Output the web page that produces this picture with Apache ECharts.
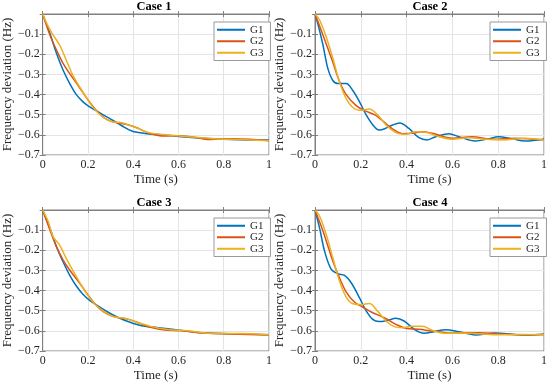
<!DOCTYPE html>
<html><head><meta charset="utf-8">
<script src="https://cdn.jsdelivr.net/npm/echarts@6/dist/echarts.min.js"></script>
<style>html,body{margin:0;padding:0;background:#fff}#c{width:550px;height:385px}</style>
</head><body><div id="c"></div>
<script>
// ---- data ----
const caseTitles = ['Case 1', 'Case 2', 'Case 3', 'Case 4'];
const seriesNames = ['G1', 'G2', 'G3'];
const seriesColors = ['#0072BD', '#D95319', '#EDB120'];
const xLabel = 'Time (s)';
const yLabel = 'Frequency deviation (Hz)';

const case1G1 = [[0,0],[0.032,-0.096],[0.061,-0.195],[0.09,-0.278],[0.119,-0.344],[0.148,-0.399],[0.177,-0.435],[0.206,-0.46],[0.235,-0.48],[0.264,-0.498],[0.307,-0.526],[0.351,-0.556],[0.394,-0.581],[0.452,-0.593],[0.525,-0.599],[0.612,-0.609],[0.728,-0.618],[0.872,-0.624],[1,-0.626]];
const case1G2 = [[0,0],[0.032,-0.104],[0.061,-0.179],[0.09,-0.245],[0.119,-0.295],[0.162,-0.364],[0.206,-0.435],[0.249,-0.493],[0.286,-0.526],[0.329,-0.54],[0.38,-0.551],[0.423,-0.568],[0.474,-0.593],[0.539,-0.606],[0.597,-0.604],[0.655,-0.609],[0.742,-0.623],[0.843,-0.619],[0.93,-0.623],[1,-0.629]];
const case1G3 = [[0,0],[0.025,-0.063],[0.046,-0.104],[0.075,-0.154],[0.104,-0.228],[0.133,-0.303],[0.177,-0.386],[0.22,-0.46],[0.264,-0.51],[0.307,-0.535],[0.351,-0.54],[0.409,-0.563],[0.467,-0.589],[0.554,-0.601],[0.641,-0.609],[0.757,-0.619],[0.872,-0.623],[1,-0.629]];

const case2G1 = [[0,0],[0.015,-0.06],[0.035,-0.155],[0.056,-0.27],[0.078,-0.33],[0.1,-0.345],[0.136,-0.345],[0.165,-0.38],[0.194,-0.435],[0.223,-0.5],[0.252,-0.55],[0.28,-0.576],[0.302,-0.571],[0.339,-0.551],[0.37,-0.541],[0.41,-0.568],[0.454,-0.614],[0.49,-0.625],[0.527,-0.609],[0.585,-0.594],[0.628,-0.609],[0.7,-0.63],[0.758,-0.62],[0.8,-0.61],[0.86,-0.619],[0.917,-0.63],[1,-0.62]];
const case2G2 = [[0,0],[0.035,-0.105],[0.078,-0.24],[0.107,-0.335],[0.136,-0.4],[0.18,-0.455],[0.216,-0.48],[0.26,-0.5],[0.295,-0.53],[0.34,-0.571],[0.382,-0.594],[0.425,-0.592],[0.469,-0.584],[0.512,-0.592],[0.6,-0.617],[0.686,-0.609],[0.773,-0.622],[0.874,-0.617],[1,-0.625]];
const case2G3 = [[0,0],[0.02,-0.03],[0.049,-0.114],[0.078,-0.22],[0.107,-0.337],[0.136,-0.42],[0.165,-0.464],[0.194,-0.478],[0.237,-0.472],[0.273,-0.5],[0.31,-0.551],[0.353,-0.589],[0.396,-0.597],[0.44,-0.584],[0.483,-0.587],[0.541,-0.609],[0.6,-0.622],[0.671,-0.614],[0.744,-0.622],[0.83,-0.625],[0.917,-0.617],[1,-0.625]];

const case3G1 = [[0,0],[0.032,-0.091],[0.061,-0.182],[0.09,-0.257],[0.119,-0.323],[0.148,-0.376],[0.177,-0.417],[0.206,-0.447],[0.249,-0.48],[0.293,-0.51],[0.336,-0.535],[0.38,-0.555],[0.438,-0.575],[0.51,-0.584],[0.597,-0.596],[0.699,-0.609],[0.843,-0.614],[1,-0.619]];
const case3G2 = [[0,0],[0.032,-0.099],[0.061,-0.182],[0.09,-0.248],[0.119,-0.298],[0.162,-0.361],[0.206,-0.43],[0.249,-0.488],[0.286,-0.517],[0.329,-0.533],[0.38,-0.543],[0.43,-0.563],[0.481,-0.584],[0.539,-0.596],[0.612,-0.599],[0.699,-0.609],[0.843,-0.616],[1,-0.62]];
const case3G3 = [[0,0],[0.025,-0.058],[0.046,-0.132],[0.075,-0.174],[0.104,-0.24],[0.141,-0.315],[0.184,-0.397],[0.228,-0.464],[0.271,-0.505],[0.314,-0.53],[0.365,-0.538],[0.423,-0.56],[0.481,-0.579],[0.554,-0.593],[0.641,-0.599],[0.757,-0.613],[0.872,-0.613],[1,-0.619]];

const case4G1 = [[0,0],[0.02,-0.09],[0.042,-0.205],[0.071,-0.295],[0.1,-0.317],[0.129,-0.325],[0.158,-0.361],[0.194,-0.435],[0.223,-0.5],[0.252,-0.543],[0.28,-0.554],[0.317,-0.548],[0.353,-0.538],[0.389,-0.551],[0.433,-0.592],[0.476,-0.612],[0.52,-0.604],[0.57,-0.594],[0.628,-0.604],[0.7,-0.62],[0.787,-0.611],[0.86,-0.617],[0.917,-0.622],[1,-0.616]];
const case4G2 = [[0,0],[0.035,-0.105],[0.078,-0.254],[0.107,-0.337],[0.136,-0.406],[0.172,-0.457],[0.208,-0.482],[0.252,-0.51],[0.302,-0.535],[0.353,-0.568],[0.396,-0.587],[0.454,-0.592],[0.512,-0.601],[0.6,-0.611],[0.715,-0.609],[0.83,-0.617],[1,-0.619]];
const case4G3 = [[0,0],[0.02,-0.03],[0.049,-0.122],[0.078,-0.238],[0.107,-0.353],[0.136,-0.432],[0.165,-0.465],[0.201,-0.469],[0.237,-0.464],[0.273,-0.502],[0.31,-0.551],[0.346,-0.579],[0.382,-0.584],[0.425,-0.577],[0.469,-0.577],[0.512,-0.597],[0.563,-0.612],[0.628,-0.611],[0.715,-0.614],[0.8,-0.619],[1,-0.618]];

const caseData = [[case1G1, case1G2, case1G3], [case2G1, case2G2, case2G3], [case3G1, case3G2, case3G3], [case4G1, case4G2, case4G3]];

const xMin = 0, xMax = 1, xStep = 0.2;
const yMin = -0.7, yMax = 0, yStep = 0.1;

// ---- layout ----
const FONT = '"Liberation Serif", "Times New Roman", serif';
const panels = [
  {left: 39, top: 14}, {left: 315, top: 14},
  {left: 39, top: 210}, {left: 315, top: 210}
];
const PW = 230, PH = 141;
const axisColor = '#808080';
const textColor = '#262626';
const gridColor = '#e4e4e4';

const grid = [], xAxis = [], yAxis = [], series = [], legend = [], graphic = [];
panels.forEach((p, i) => {
  grid.push({left: p.left, top: p.top, width: PW, height: PH, show: true, borderColor: axisColor, borderWidth: 1, backgroundColor: '#fff', containLabel: false});
  const tick = {show: true, inside: true, length: 3, lineStyle: {color: axisColor}};
  xAxis.push({
    type: 'value', gridIndex: i, position: 'bottom', min: xMin, max: xMax, interval: xStep,
    axisLine: {show: true, lineStyle: {color: axisColor}}, axisTick: tick,
    axisLabel: {fontFamily: FONT, fontSize: 12, color: textColor, margin: 4,
      formatter: v => String(Math.round(v * 10) / 10)},
    splitLine: {show: true, lineStyle: {color: gridColor, width: 1}},
    name: xLabel, nameLocation: 'middle', nameGap: 18,
    nameTextStyle: {fontFamily: FONT, fontSize: 13, color: textColor}
  });
  xAxis.push({
    type: 'value', gridIndex: i, position: 'top', min: xMin, max: xMax, interval: xStep,
    axisLine: {show: true, lineStyle: {color: axisColor}}, axisTick: tick,
    axisLabel: {show: false}, splitLine: {show: false}
  });
  yAxis.push({
    type: 'value', gridIndex: i, position: 'left', min: yMin, max: yMax, interval: yStep,
    axisLine: {show: true, lineStyle: {color: axisColor}}, axisTick: tick,
    axisLabel: {fontFamily: FONT, fontSize: 12, color: textColor, margin: 3, showMaxLabel: false,
      formatter: v => (Math.round(v * 10) / 10).toFixed(1).replace('-', '\u2212')},
    splitLine: {show: true, lineStyle: {color: gridColor, width: 1}},
    name: yLabel, nameLocation: 'middle', nameGap: 24,
    nameTextStyle: {fontFamily: FONT, fontSize: 13, color: textColor}
  });
  yAxis.push({
    type: 'value', gridIndex: i, position: 'right', min: yMin, max: yMax, interval: yStep,
    axisLine: {show: true, lineStyle: {color: axisColor}}, axisTick: tick,
    axisLabel: {show: false}, splitLine: {show: false}
  });
  caseData[i].forEach((d, k) => {
    series.push({
      type: 'line', name: seriesNames[k], xAxisIndex: 2 * i, yAxisIndex: 2 * i,
      data: d, smooth: 0.35, symbol: 'none', showSymbol: false,
      lineStyle: {color: seriesColors[k], width: 1.5}, itemStyle: {color: seriesColors[k]},
      z: 3 + k
    });
  });
  legend.push({
    orient: 'vertical', left: p.left + 175, top: p.top + 8,
    data: seriesNames, icon: 'rect', itemWidth: 28, itemHeight: 2, itemGap: 0, itemTextGap: 3,
    padding: [2, 7, 2, 3], borderColor: '#999', borderWidth: 1, backgroundColor: '#fff',
    selectedMode: false,
    textStyle: {fontFamily: FONT, fontSize: 11, color: textColor, lineHeight: 11.5}
  });
  graphic.push({
    type: 'text', x: p.left + PW / 2, y: p.top - 7, z: 10,
    style: {text: caseTitles[i], fontFamily: FONT, fontSize: 12.5, fontWeight: 'bold', fill: '#000', align: 'center', verticalAlign: 'middle'}
  });
});

const chart = echarts.init(document.getElementById('c'), null, {renderer: 'canvas'});
chart.setOption({
  animation: false, backgroundColor: '#fff', color: seriesColors,
  grid, xAxis, yAxis, series, legend, graphic
});
</script>
</body></html>
